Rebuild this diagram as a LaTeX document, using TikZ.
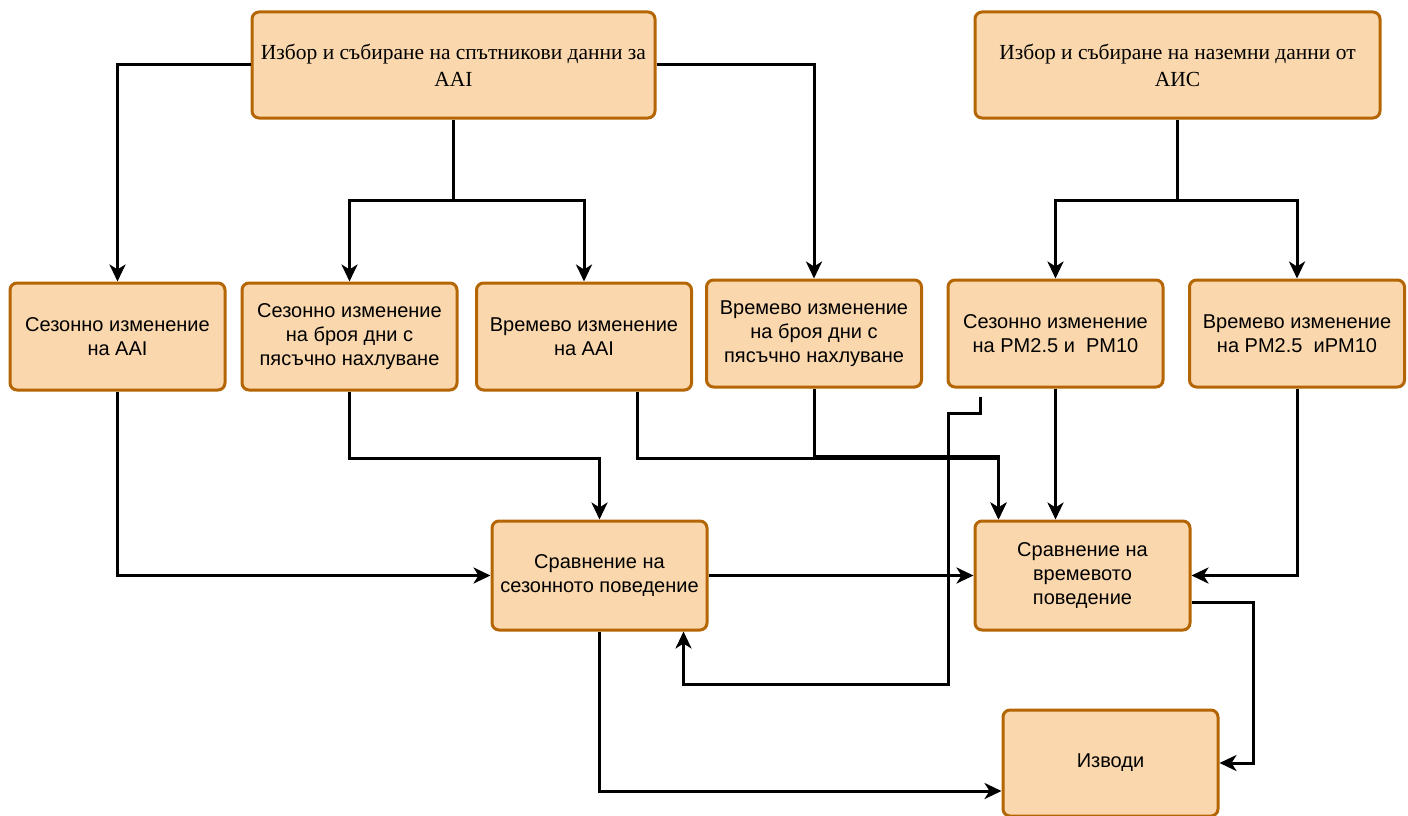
\documentclass[tikz,border=0pt]{standalone}
\usepackage{fontspec}
\setmainfont{Liberation Serif}
\setsansfont{Liberation Sans}
\usetikzlibrary{arrows.meta}
\definecolor{boxfill}{HTML}{FAD7AC}
\definecolor{boxline}{HTML}{B46504}
\begin{document}
\begin{tikzpicture}[x=1pt,y=-1pt,>={Stealth[length=17pt,width=16pt,inset=5pt]},
    box/.style={draw=boxline, fill=boxfill, line width=3pt, rounded corners=7pt,
        align=center, inner sep=4pt},
    topbox/.style={box, minimum width=403pt, minimum height=106pt,
        font=\fontsize{21.5}{27}\selectfont},
    midbox/.style={box, minimum width=215pt, minimum height=107pt,
        font=\fontsize{20}{24}\selectfont\sffamily},
    link/.style={line width=3pt, draw=black},
    arr/.style={link, ->}]
    \useasboundingbox (0,0) rectangle (1408,816);

    % входни данни
    \node[topbox] (sat) at (453.5,65) {Избор и събиране на спътникови данни за\\ААI};
    \node[topbox, minimum width=405pt] (gnd) at (1177.5,65) {Избор и събиране на наземни данни от\\АИС};

    % изменения
    \node[midbox] (sezaai) at (117.5,336.5) {Сезонно изменение\\на ААI};
    \node[midbox] (sezdni) at (349.5,336.5) {Сезонно изменение\\на броя дни с\\пясъчно нахлуване};
    \node[midbox] (vraai) at (584,336.5) {Времево изменение\\на ААI};
    \node[midbox] (vrdni) at (814,333.5) {Времево изменение\\на броя дни с\\пясъчно нахлуване};
    \node[midbox] (sezpm) at (1055.5,333.5) {Сезонно изменение\\на PM2.5 и\ \ PM10};
    \node[midbox] (vrpm) at (1297,333.5) {Времево изменение\\на PM2.5\ \ иPM10};

    % сравнения и изводи
    \node[midbox, minimum height=109pt] (srsez) at (599.5,575.5) {Сравнение на\\сезонното поведение};
    \node[midbox, minimum height=109pt] (srvr) at (1082.5,575.5) {Сравнение на\\времевото\\поведение};
    \node[midbox, minimum height=106pt] (izv) at (1110.5,763) {Изводи};

    % разклонения
    \coordinate (razsat) at (453.5,200);
    \coordinate (razgnd) at (1177.5,200);

    % стрелки от входните данни
    \draw[arr] (sat.west) -| (sezaai.north);
    \draw[link] (sat.south) -- (razsat);
    \draw[arr] (razsat) -| (sezdni.north);
    \draw[arr] (razsat) -| (vraai.north);
    \draw[arr] (sat.east) -| (vrdni.north);
    \draw[link] (gnd.south) -- (razgnd);
    \draw[arr] (razgnd) -| (sezpm.north);
    \draw[arr] (razgnd) -| (vrpm.north);

    % към сравненията
    \draw[arr] (sezaai.south) |- (srsez.west);
    \draw[arr] (sezdni.south) -- ++(0,67) -| (srsez.north);
    \draw[arr] ([xshift=53pt]vraai.south) -- ++(0,67) -| ([xshift=25pt]srvr.north west);
    \draw[arr] (vrdni.south) -- ++(0,68) -| ([xshift=25pt]srvr.north west);
    \draw[arr] (sezpm.south) -- (sezpm.south |- srvr.north);
    \draw[arr] ([xshift=-75.5pt,yshift=-8pt]sezpm.south) -- ++(0,17) -- ++(-32,0)
        -- ++(0,271) -| ([xshift=-25pt]srsez.south east);
    \draw[arr] (srsez.east) -- (srvr.west);
    \draw[arr] (vrpm.south) |- (srvr.east);

    % към изводите
    \draw[arr] ([yshift=-27pt]srvr.east) -- ++(62,0) |- (izv.east);
    \draw[arr] (srsez.south) |- ([yshift=-28pt]izv.west);
\end{tikzpicture}
\end{document}
